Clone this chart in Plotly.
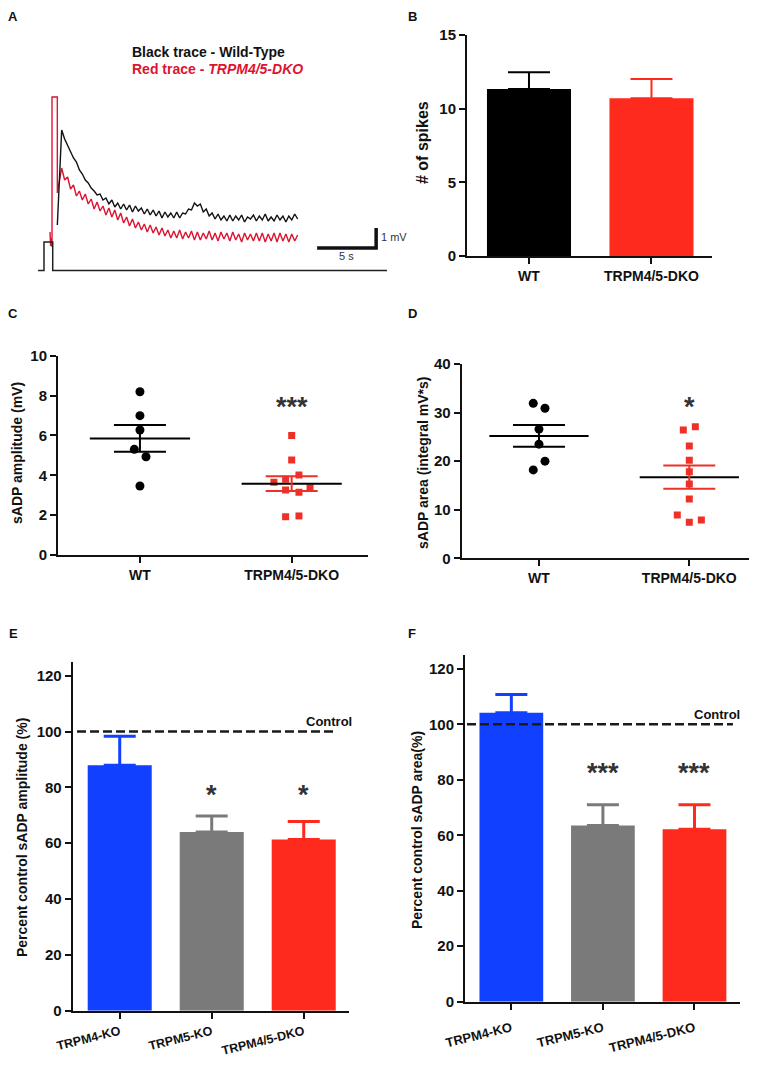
import plotly.graph_objects as go

VIEW_W, VIEW_H = 767, 1066
PAGE_MARGIN = 8  # browser default body margin
W, H = VIEW_W - 2 * PAGE_MARGIN, VIEW_H - 2 * PAGE_MARGIN
FONT = "Liberation Sans, Arial, sans-serif"

# ---------------- Panel A data (time in s, membrane potential in mV) ----------------
trace_start = 1.5
trace_step = 0.25
wt_onset_t = [1.13, 1.3]
wt_onset_v = [1.25, 3.8]
wt_trace = [6.0, 5.55, 5.25, 4.9, 4.6, 4.4, 4.0, 3.8, 3.5, 3.35, 3.1, 2.95, 2.75, 2.8, 2.5, 2.6,
            2.3, 2.5, 2.15, 2.35, 2.05, 2.3, 2.0, 2.25, 1.9, 2.2, 1.95, 2.1, 1.8, 2.05, 1.75, 2.0,
            1.7, 1.95, 1.6, 1.9, 1.65, 1.85, 1.6, 1.9, 1.6, 1.85, 1.8, 2.05, 2.0, 2.35, 2.2, 2.3,
            1.9, 2.05, 1.7, 1.85, 1.55, 1.8, 1.5, 1.7, 1.45, 1.75, 1.45, 1.7, 1.5, 1.75, 1.4, 1.65,
            1.55, 1.75, 1.45, 1.7, 1.5, 1.8, 1.45, 1.65, 1.45, 1.75, 1.5, 1.7, 1.4, 1.7, 1.5, 1.8, 1.55]
dko_onset_t = [0.51, 0.56, 0.6, 0.64, 0.68, 0.68, 1.13, 1.13, 1.3]
dko_onset_v = [0.9, 0.2, 0.6, 0.15, 0.15, 7.65, 7.65, 2.85, 3.4]
dko_trace = [4.1, 3.5, 3.65, 3.05, 3.25, 2.7, 2.95, 2.5, 2.8, 2.3, 2.55, 2.05, 2.4, 1.95, 2.2, 1.75,
             2.1, 1.65, 2.0, 1.5, 1.85, 1.35, 1.65, 1.2, 1.55, 1.1, 1.4, 1.0, 1.3, 0.9, 1.25, 0.85,
             1.15, 0.75, 1.1, 0.7, 1.0, 0.6, 0.95, 0.6, 1.0, 0.55, 0.9, 0.6, 0.95, 0.5, 0.9, 0.5,
             0.85, 0.55, 0.95, 0.5, 0.85, 0.45, 0.9, 0.55, 0.85, 0.45, 0.9, 0.5, 0.8, 0.4, 0.85, 0.5,
             0.8, 0.45, 0.85, 0.45, 0.85, 0.4, 0.8, 0.45, 0.85, 0.4, 0.85, 0.45, 0.8, 0.4, 0.8, 0.45, 0.75]
stim_t = [-0.5, 0.0, 0.0, 0.74, 0.74, 29.07]
stim_v = [-1.03, -1.03, 0.4, 0.4, -1.03, -1.03]
scalebar_t = [23.15, 28.15, 28.15]
scalebar_v = [0.1, 0.1, 1.1]

# ---------------- Panel B ----------------
b_groups = ["WT", "TRPM4/5-DKO"]
b_mean = [11.34, 10.7]
b_sem = [1.13, 1.32]

# ---------------- Panel C ----------------
cd_groups = ["WT", "TRPM4/5-DKO"]
c_wt = [8.19, 6.99, 6.27, 5.30, 4.93, 3.46]
c_wt_jit = [0, 0, 0, -0.037, 0.04, 0]
c_dko = [5.99, 4.77, 4.01, 3.80, 3.65, 3.38, 3.26, 3.15, 1.92, 1.96]
c_dko_jit = [0, 0, 0.048, -0.04, -0.117, 0.121, -0.04, 0.048, -0.04, 0.048]
c_mean = [5.85, 3.58]
c_sem = [0.67, 0.37]
c_sig = ["", "***"]

# ---------------- Panel D ----------------
d_wt = [31.9, 30.9, 26.6, 23.5, 20.0, 18.2]
d_wt_jit = [-0.038, 0.04, 0, 0, 0.04, -0.038]
d_dko = [26.4, 27.1, 23.1, 20.2, 17.8, 15.3, 12.2, 8.9, 7.4, 7.9]
d_dko_jit = [-0.04, 0.04, 0, 0, 0, 0, 0, -0.08, 0, 0.08]
d_mean = [25.2, 16.7]
d_sem = [2.25, 2.4]
d_sig = ["", "*"]

# ---------------- Panels E / F ----------------
ef_groups = ["TRPM4-KO", "TRPM5-KO", "TRPM4/5-DKO"]
e_mean = [87.9, 64.0, 61.3]
e_sem = [10.4, 5.7, 6.5]
e_sig = ["", "*", "*"]
f_mean = [104.2, 63.5, 62.2]
f_sem = [6.6, 7.5, 8.8]
f_sig = ["", "***", "***"]
control_level = 100

# ---------------- styles ----------------
RED_TRACE = "#DC1432"
RED = "#FF2A1E"
RED_PT = "#EE3128"
BLUE = "#1240FF"
GRAY = "#7A7A7A"
ef_colors = [BLUE, GRAY, RED]


def px_x(p):
    return (p - PAGE_MARGIN) / W


def px_y(p):
    return 1 - (p - PAGE_MARGIN) / H


fig = go.Figure()

# ---- Panel A ----
t_grid = [trace_start + trace_step * i for i in range(len(wt_trace))]
fig.add_trace(go.Scatter(x=dko_onset_t + t_grid, y=dko_onset_v + dko_trace, mode="lines",
                         line=dict(color=RED_TRACE, width=1.4), xaxis="x", yaxis="y"))
fig.add_trace(go.Scatter(x=wt_onset_t + t_grid, y=wt_onset_v + wt_trace, mode="lines",
                         line=dict(color="#111111", width=1.4), xaxis="x", yaxis="y"))
fig.add_trace(go.Scatter(x=stim_t, y=stim_v, mode="lines",
                         line=dict(color="#222222", width=1.5), xaxis="x", yaxis="y"))
fig.add_trace(go.Scatter(x=scalebar_t, y=scalebar_v, mode="lines",
                         line=dict(color="#111111", width=3.5), xaxis="x", yaxis="y"))

# ---- Panel B ----
b_colors = ["#000000", RED]
for i, g in enumerate(b_groups):
    fig.add_trace(go.Bar(x=[i], y=[b_mean[i]], width=0.686, marker=dict(color=b_colors[i], line=dict(width=0)),
                         error_y=dict(type="data", array=[b_sem[i]], arrayminus=[0], symmetric=False,
                                      color=b_colors[i], thickness=2, width=21),
                         xaxis="x2", yaxis="y2"))


# ---- Panels C, D (scatter + mean +/- SEM) ----
def dot_panel(xa, ya, wt, wtj, dko, dkoj, mean, sem):
    fig.add_trace(go.Scatter(x=[0 + j for j in wtj], y=wt, mode="markers",
                             marker=dict(symbol="circle", size=9, color="#000000"), xaxis=xa, yaxis=ya))
    fig.add_trace(go.Scatter(x=[1 + j for j in dkoj], y=dko, mode="markers",
                             marker=dict(symbol="square", size=7, color=RED_PT), xaxis=xa, yaxis=ya))
    sem_colors = ["#000000", RED_PT]
    for i in range(2):
        fig.add_trace(go.Scatter(x=[i - 0.33, i + 0.33], y=[mean[i], mean[i]], mode="lines",
                                 line=dict(color="#000000", width=2), xaxis=xa, yaxis=ya))
        fig.add_trace(go.Scatter(x=[i], y=[mean[i]], mode="markers", marker=dict(size=1, color="rgba(0,0,0,0)"),
                                 error_y=dict(type="data", array=[sem[i]], color=sem_colors[i], thickness=2, width=26),
                                 xaxis=xa, yaxis=ya))


dot_panel("x3", "y3", c_wt, c_wt_jit, c_dko, c_dko_jit, c_mean, c_sem)
dot_panel("x4", "y4", d_wt, d_wt_jit, d_dko, d_dko_jit, d_mean, d_sem)


# ---- Panels E, F ----
def bar_panel(xa, ya, mean, sem, ctrl_x):
    for i in range(len(ef_groups)):
        fig.add_trace(go.Bar(x=[i], y=[mean[i]], width=0.696, marker=dict(color=ef_colors[i], line=dict(width=0)),
                             error_y=dict(type="data", array=[sem[i]], arrayminus=[0], symmetric=False,
                                          color=ef_colors[i], thickness=3, width=16),
                             xaxis=xa, yaxis=ya))
    fig.add_trace(go.Scatter(x=ctrl_x, y=[control_level, control_level], mode="lines",
                             line=dict(color="#1a1a1a", width=2.5, dash="9px,4px"), xaxis=xa, yaxis=ya))


bar_panel("x5", "y5", e_mean, e_sem, [-0.464, 2.318])
bar_panel("x6", "y6", f_mean, f_sem, [-0.484, 2.42])

# ---------------- axes ----------------
tickfont = dict(family=FONT, size=15, color="#111111", weight="bold")


def xax(d0, d1, rng, anchor, labels, angle=0, size=14, standoff=0):
    return dict(domain=[px_x(d0), px_x(d1)], range=rng, anchor=anchor, showline=True, linewidth=2,
                linecolor="#111111", ticks="outside", ticklen=6, tickwidth=2, tickcolor="#111111",
                tickvals=list(range(len(labels))), ticktext=labels, tickangle=angle,
                ticklabelstandoff=standoff,
                tickfont=dict(family=FONT, size=size, color="#111111", weight="bold"),
                showgrid=False, zeroline=False, fixedrange=True, automargin=False)


def yax(d_bottom, d_top, rng, anchor, tickvals):
    return dict(domain=[px_y(d_bottom), px_y(d_top)], range=rng, anchor=anchor, showline=True, linewidth=2,
                linecolor="#111111", ticks="outside", ticklen=6, tickwidth=2, tickcolor="#111111",
                tickvals=tickvals, tickfont=tickfont, showgrid=False, zeroline=False, fixedrange=True,
                automargin=False)


layout = dict(
    width=W, height=H, margin=dict(l=0, r=0, t=0, b=0, autoexpand=False), paper_bgcolor="white",
    plot_bgcolor="white", showlegend=False, barmode="overlay",
    xaxis=dict(domain=[px_x(30), px_x(410)], range=[-1.186, 31.02], visible=False, anchor="y", automargin=False),
    yaxis=dict(domain=[px_y(275), px_y(90)], range=[-1.25, 8.0], visible=False, anchor="x", automargin=False),
    xaxis2=xax(467, 712, [-0.506, 1.494], "y2", b_groups),
    yaxis2=yax(256, 35, [0, 15], "x2", [0, 5, 10, 15]),
    xaxis3=xax(58, 368, [-0.54, 1.503], "y3", cd_groups),
    yaxis3=yax(555, 355.7, [0, 10], "x3", [0, 2, 4, 6, 8, 10]),
    xaxis4=xax(461.7, 749, [-0.514, 1.397], "y4", cd_groups),
    yaxis4=yax(558.3, 364, [0, 40], "x4", [0, 10, 20, 30, 40]),
    xaxis5=xax(72.7, 349, [-0.511, 2.492], "y5", ef_groups, angle=-14, size=12.5, standoff=1),
    yaxis5=yax(1010.7, 661.7, [0, 125], "x5", [0, 20, 40, 60, 80, 100, 120]),
    xaxis6=xax(465, 740, [-0.506, 2.497], "y6", ef_groups, angle=-14, size=13, standoff=6),
    yaxis6=yax(1001.7, 655, [0, 125], "x6", [0, 20, 40, 60, 80, 100, 120]),
)
fig.update_layout(**layout)

# ---------------- annotations ----------------
ann = []


def txt(text, x, y, size=13, color="#111111", xanchor="center", yanchor="middle", angle=0, xref="paper",
        yref="paper", yshift=0):
    ann.append(dict(text=text, x=x, y=y, xref=xref, yref=yref, showarrow=False, xanchor=xanchor,
                    yanchor=yanchor, textangle=angle, yshift=yshift, borderpad=0,
                    font=dict(family=FONT, size=size, color=color)))


# panel letters
txt("<b>A</b>", px_x(13), px_y(8), size=13, yanchor="top")
txt("<b>B</b>", px_x(413), px_y(8), size=13, yanchor="top")
for letter, (px, py) in {"C": (13, 314), "D": (413, 314), "E": (13, 633), "F": (412, 633)}.items():
    txt("<b>" + letter + "</b>", px_x(px), px_y(py), size=13)

# panel A legend text and scale labels
txt("<b>Black trace - Wild-Type</b>", px_x(131), px_y(52), size=14, xanchor="left")
txt("<b>Red trace - <i>TRPM4/5-DKO</i></b>", px_x(131), px_y(69), size=14, color=RED_TRACE, xanchor="left")
txt("1 mV", 28.45, 0.65, size=11, color="#333333", xanchor="left", xref="x", yref="y")
txt("5 s", 25.65, -0.3, size=11, color="#333333", xref="x", yref="y")

# axis titles
txt("<b># of spikes</b>", px_x(422), px_y(143), size=16, angle=-90)
txt("<b>sADP amplitude (mV)</b>", px_x(17), px_y(453), size=14, angle=-90)
txt("<b>sADP area (integral mV*s)</b>", px_x(423), px_y(463), size=14, angle=-90)
txt("<b>Percent control sADP amplitude (%)</b>", px_x(22), px_y(838), size=14, angle=-90)
txt("<b>Percent control sADP area(%)</b>", px_x(417), px_y(830), size=14, angle=-90)

# control labels
txt("<b>Control</b>", px_x(353), px_y(721), size=13, xanchor="right")
txt("<b>Control</b>", px_x(741), px_y(714), size=13, xanchor="right")

# significance marks
sig_specs = [("x3", "y3", c_sig, 7.69), ("x4", "y4", d_sig, 32.2), ("x5", "y5", e_sig, 79.0),
             ("x6", "y6", f_sig, 84.4)]
for xa, ya, sigs, yv in sig_specs:
    for i, s in enumerate(sigs):
        if s:
            txt("<b>" + s + "</b>", i, yv, size=27, color="#333333", xref=xa, yref=ya, yshift=-5)

fig.update_layout(annotations=ann)
fig.write_html("out.html")
